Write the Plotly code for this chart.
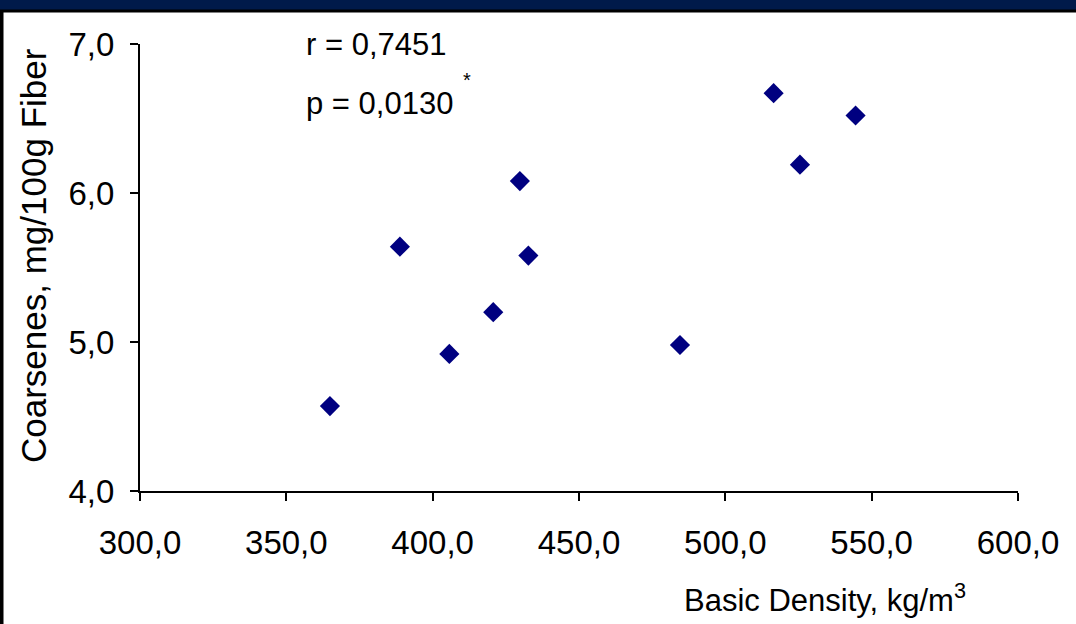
import plotly.graph_objects as go

# Basic density vs. fiber coarseness
basic_density = [364.9, 388.8, 405.7, 420.7, 429.8, 432.7, 484.5, 516.5, 525.5, 544.5]
coarseness = [4.57, 5.64, 4.92, 5.20, 6.08, 5.58, 4.98, 6.67, 6.19, 6.52]

x_ticks = [300, 350, 400, 450, 500, 550, 600]
y_ticks = [4, 5, 6, 7]

W, H = 1076, 624
L, R, T, B = 140, 58, 44, 133
PW, PH = W - L - R, H - T - B

def px(x):
    return (x - L) / PW

def py(y):
    return 1 - (y - T) / PH

FONT = "Liberation Sans, Arial, sans-serif"

fig = go.Figure(
    go.Scatter(
        x=basic_density,
        y=coarseness,
        mode="markers",
        marker=dict(symbol="diamond", size=15.5, color="#000080", line=dict(width=0)),
        hoverinfo="x+y",
    )
)

axis_style = dict(
    tickformat=".1f",
    showgrid=False,
    zeroline=False,
    showline=True,
    linecolor="black",
    linewidth=2,
    ticks="outside",
    ticklen=8,
    tickwidth=2,
    tickcolor="black",
    tickfont=dict(family=FONT, size=33, color="black"),
)

fig.update_layout(
    width=W,
    height=H,
    margin=dict(l=L, r=R, t=T, b=B),
    paper_bgcolor="white",
    plot_bgcolor="white",
    separators=", ",
    showlegend=False,
    font=dict(family=FONT, size=30, color="black"),
    xaxis=dict(range=[300, 600], tickvals=x_ticks, ticklabelstandoff=13, **axis_style),
    yaxis=dict(range=[4, 7], tickvals=y_ticks, ticklabelstandoff=9, **axis_style),
)

annotations = [
    dict(text="r = 0,7451", x=px(304), y=py(44), xanchor="left", yanchor="middle",
         font=dict(size=31)),
    dict(text="p = 0,0130", x=px(304), y=py(103), xanchor="left", yanchor="middle",
         font=dict(size=31)),
    dict(text="*", x=px(467), y=py(80), xanchor="center", yanchor="middle",
         font=dict(size=20)),
    dict(text="Basic Density, kg/m<sup>3</sup>", x=px(968), y=py(598),
         xanchor="right", yanchor="middle", font=dict(size=31)),
    dict(text="Coarsenes, mg/100g Fiber", x=px(33), y=py(256),
         xanchor="center", yanchor="middle", textangle=-90,
         font=dict(size=35)),
]
for a in annotations:
    a["font"].setdefault("family", FONT)
    a["font"].setdefault("color", "black")
    fig.add_annotation(xref="paper", yref="paper", showarrow=False, **a)

# Frame: navy band with a black rule along the top, black strip at the left edge
fig.add_shape(type="rect", xref="paper", yref="paper",
              x0=px(0), x1=px(W), y0=py(10), y1=py(0),
              fillcolor="#001a4a", line=dict(width=0), layer="above")
fig.add_shape(type="rect", xref="paper", yref="paper",
              x0=px(0), x1=px(W), y0=py(12.5), y1=py(9.5),
              fillcolor="black", line=dict(width=0), layer="above")
fig.add_shape(type="rect", xref="paper", yref="paper",
              x0=px(0), x1=px(3.5), y0=py(H), y1=py(10),
              fillcolor="black", line=dict(width=0), layer="above")

fig.write_html("out.html")
